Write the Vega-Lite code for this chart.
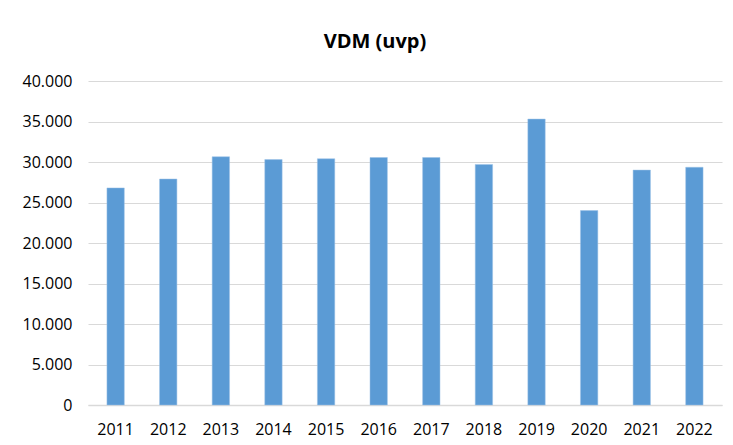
{
  "$schema": "https://vega.github.io/schema/vega-lite/v6.json",
  "autosize": "none",
  "width": 634,
  "height": 324,
  "padding": {"left": 88, "top": 81, "right": 11, "bottom": 40},
  "background": "white",
  "config": {
    "locale": {"number": {"decimal": ",", "thousands": ".", "grouping": [3], "currency": ["", "€"]}},
    "view": {"stroke": null},
    "font": "Open Sans"
  },
  "title": {
    "text": "VDM (uvp)",
    "fontSize": 20,
    "fontWeight": "bold",
    "font": "Open Sans",
    "color": "#000000",
    "anchor": "middle",
    "offset": 21,
    "dx": -30
  },
  "data": {
    "values": [
      {"year": "2011", "value": 26800},
      {"year": "2012", "value": 27900},
      {"year": "2013", "value": 30650},
      {"year": "2014", "value": 30300},
      {"year": "2015", "value": 30400},
      {"year": "2016", "value": 30550},
      {"year": "2017", "value": 30550},
      {"year": "2018", "value": 29700},
      {"year": "2019", "value": 35300},
      {"year": "2020", "value": 24000},
      {"year": "2021", "value": 29000},
      {"year": "2022", "value": 29350}
    ]
  },
  "mark": {"type": "bar", "color": "#5B9BD5", "stroke": "#9DC3E6", "strokeWidth": 0.5},
  "encoding": {
    "x": {
      "field": "year",
      "type": "ordinal",
      "scale": {"paddingInner": 0.67, "paddingOuter": 0.36},
      "axis": {
        "title": null,
        "labelAngle": 0,
        "labelFontSize": 16,
        "labelColor": "#000000",
        "labelPadding": 16,
        "ticks": false,
        "domainColor": "#d9d9d9",
        "domainWidth": 1.5
      }
    },
    "y": {
      "field": "value",
      "type": "quantitative",
      "scale": {"domain": [0, 40000]},
      "axis": {
        "title": null,
        "values": [0, 5000, 10000, 15000, 20000, 25000, 30000, 35000, 40000],
        "format": ",d",
        "labelFontSize": 16,
        "labelColor": "#000000",
        "labelPadding": 16,
        "ticks": false,
        "domain": false,
        "gridColor": "#d9d9d9",
        "gridWidth": 1
      }
    }
  }
}
